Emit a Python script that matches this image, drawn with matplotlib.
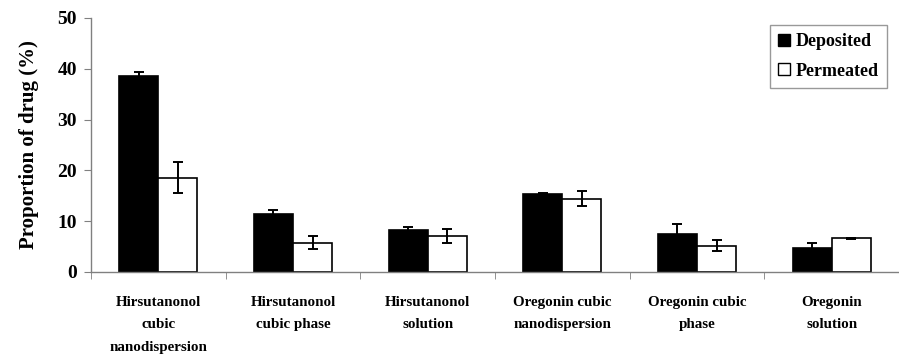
import numpy as np
import matplotlib
matplotlib.use('Agg')
import matplotlib.pyplot as plt
from matplotlib.patches import Patch

categories = ['Hirsutanonol\ncubic\nnanodispersion', 'Hirsutanonol\ncubic phase',
              'Hirsutanonol\nsolution', 'Oregonin cubic\nnanodispersion',
              'Oregonin cubic\nphase', 'Oregonin\nsolution']
deposited = [38.5, 11.4, 8.3, 15.3, 7.4, 4.7]
deposited_err = [0.8, 0.8, 0.5, 0.3, 2.0, 1.1]
permeated = [18.6, 5.8, 7.1, 14.4, 5.2, 6.6]
permeated_err = [3.1, 1.3, 1.4, 1.5, 1.1, 0.1]

plt.rcParams['font.family'] = ['Liberation Serif', 'DejaVu Serif']
plt.rcParams['font.weight'] = 'bold'

fig = plt.figure(figsize=(8.99, 3.58), dpi=100)
ax = fig.add_axes([91 / 899, 86 / 358, 808 / 899, 254 / 358])

x = np.arange(len(categories))
w = 0.29
err_kw = dict(ecolor='black', elinewidth=1.4, capsize=3.3, capthick=1.4)
ax.bar(x - w / 2, deposited, w, yerr=deposited_err, color='black',
       edgecolor='black', linewidth=1.2, error_kw=err_kw, zorder=2)
ax.bar(x + w / 2, permeated, w, yerr=permeated_err, color='white',
       edgecolor='black', linewidth=1.2, error_kw=err_kw, zorder=2)

ax.set_xlim(-0.5, 5.4)
ax.set_ylim(0, 50)
ax.set_yticks(range(0, 51, 10))
ax.set_xticks(x)
ax.set_xticklabels(categories, fontsize=10.8, linespacing=1.95)
ax.set_xticks(np.arange(-0.5, 6, 1), minor=True)
ax.tick_params(axis='x', which='major', length=0, pad=17)
ax.tick_params(axis='x', which='minor', length=5, color='#808080', direction='out')
ax.tick_params(axis='y', length=5, color='#808080', labelsize=14, pad=5)

for side in ['top', 'right']:
    ax.spines[side].set_visible(False)
for side in ['left', 'bottom']:
    ax.spines[side].set_color('#808080')
    ax.spines[side].set_linewidth(1.0)

ax.set_ylabel('Proportion of drug (%)', fontsize=15, fontweight='bold', labelpad=13)

handles = [Patch(facecolor='black', edgecolor='black', label='Deposited'),
           Patch(facecolor='white', edgecolor='black', label='Permeated')]
leg = fig.legend(handles=handles, loc='upper right', bbox_to_anchor=(887 / 899, 1 - 25 / 358),
                 fontsize=13, frameon=True, fancybox=False, handlelength=0.65,
                 handleheight=0.65, handletextpad=0.35, borderpad=0.45, labelspacing=0.7,
                 borderaxespad=0)
leg.get_frame().set_edgecolor('#808080')
leg.get_frame().set_linewidth(1.0)

fig.savefig('out.png', dpi=100)
